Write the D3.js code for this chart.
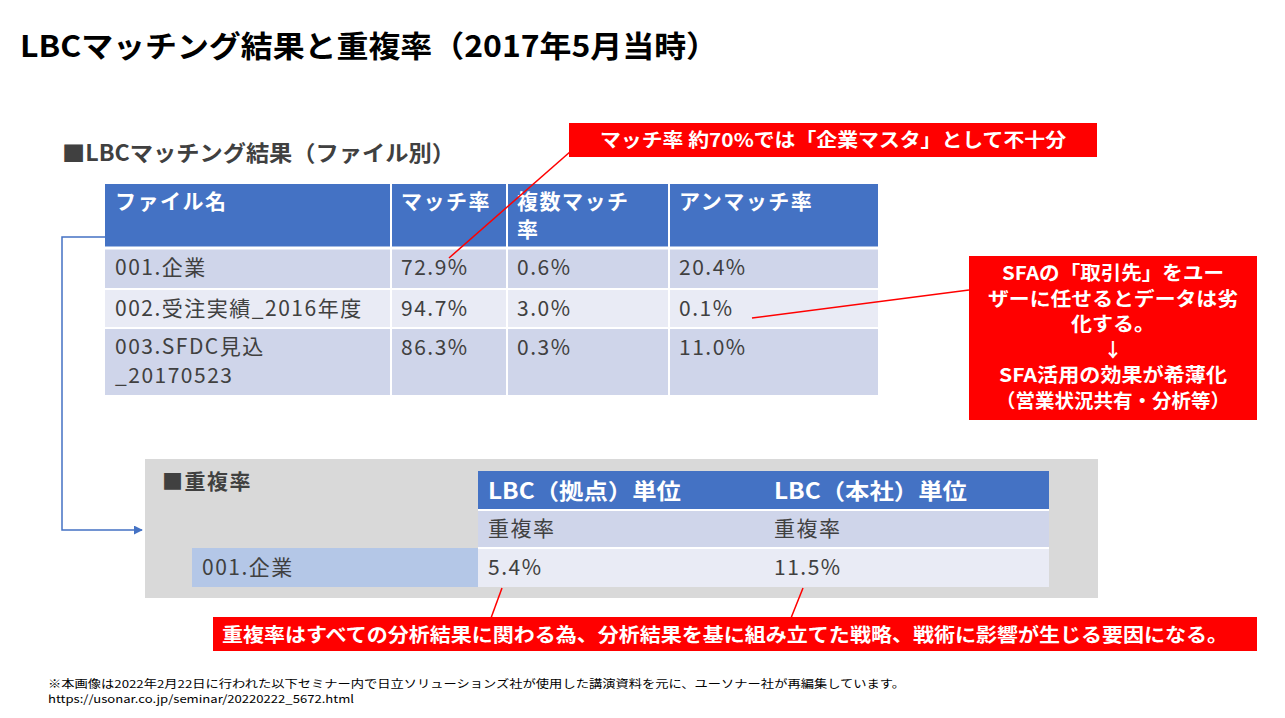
<!DOCTYPE html><html><head><meta charset="utf-8">
<script src="https://cdn.jsdelivr.net/npm/d3@7"></script>
<style>body{margin:0;background:#fff}text{font-family:"Noto Sans CJK JP","Noto Sans",sans-serif}</style></head><body>
<svg id="c" width="1285" height="718"></svg>
<script>
const headers = ["ファイル名","マッチ率","複数マッチ率","アンマッチ率"];
const files = ["001.企業","002.受注実績_2016年度","003.SFDC見込_20170523"];
const matchRate = ["72.9%","94.7%","86.3%"];
const multiRate = ["0.6%","3.0%","0.3%"];
const unmatchRate = ["20.4%","0.1%","11.0%"];
const dupHeaders = ["LBC（拠点）単位","LBC（本社）単位"];
const dupRow = ["001.企業"];
const dupValues = ["5.4%","11.5%"];

const svg = d3.select("#c");
const BLUE="#4472C4", L1="#CFD5EA", L2="#E9EBF5", RED="#FF0000", TXT="#404040";
function txt(x,y,s,o={}){const t=svg.append("text").attr("x",x).attr("y",y).text(s)
  .attr("font-size",o.size||21).attr("fill",o.fill||TXT).attr("font-weight",o.bold?"bold":"normal").attr("text-anchor",o.anchor||"start")
  .attr("letter-spacing",o.ls!=null?o.ls:1.5);
  if(o.len){t.attr("textLength",o.len).attr("lengthAdjust","spacingAndGlyphs").attr("letter-spacing",0);}
  return t;}
function rect(x,y,w,h,f){return svg.append("rect").attr("x",x).attr("y",y).attr("width",w).attr("height",h).attr("fill",f);}

txt(20,57,"LBCマッチング結果と重複率（2017年5月当時）",{size:30,bold:true,fill:"#000",len:698});
txt(62,161,"■LBCマッチング結果（ファイル別）",{size:22,bold:true,len:393});

// table 1
const colX = d3.scaleOrdinal().domain(headers).range([105,391,507,669]);
const colEnd = 878;
const rowY = d3.scaleOrdinal().domain(["h",...files]).range([184,248,289,328]);
const rowH = [64,41,39,67];
const cols = headers.map((h,i)=>({h,x:colX(h),w:(i<3?colX(headers[i+1]):colEnd)-colX(h)}));
rect(105,184,colEnd-105,64,BLUE);
cols.forEach((c,i)=>{
  const lines = i===2?["複数マッチ","率"]:[c.h];
  lines.forEach((l,k)=>txt(c.x+10,209+k*28,l,{fill:"#fff",bold:true}));
});
files.forEach((f,r)=>{
  const y=rowY(f), h=rowH[r+1];
  const vals=[f,matchRate[r],multiRate[r],unmatchRate[r]];
  cols.forEach((c,i)=>{
    rect(c.x,y,c.w,h,r===1?L2:L1);
    if(i===0&&r===2){txt(c.x+10,y+26,"003.SFDC見込");txt(c.x+10,y+55,"_20170523");}
    else txt(c.x+10,y+27,vals[i]);
  });
});
cols.slice(1).forEach(c=>svg.append("line").attr("x1",c.x).attr("x2",c.x).attr("y1",184).attr("y2",395).attr("stroke","#fff").attr("stroke-width",2));
[248,289,328].forEach(y=>svg.append("line").attr("x1",105).attr("x2",colEnd).attr("y1",y).attr("y2",y).attr("stroke","#fff").attr("stroke-width",y===248?3:2));

// connector
svg.append("defs").append("marker").attr("id","ar").attr("viewBox","0 0 10 10").attr("refX",9).attr("refY",5)
 .attr("markerWidth",6).attr("markerHeight",6).attr("orient","auto").append("path").attr("d","M0,0L10,5L0,10z").attr("fill",BLUE);
svg.append("path").attr("d","M105,237H62V530H142").attr("fill","none").attr("stroke",BLUE).attr("stroke-width",1.5).attr("marker-end","url(#ar)");

// dup table
rect(145,459,953,139,"#D9D9D9");
txt(162,489,"■重複率",{bold:true});
const dx = d3.scaleOrdinal().domain(dupHeaders).range([478,764]);
rect(478,471,571,39,BLUE);
rect(478,510,571,38,L1);
rect(478,548,571,39,L2);
rect(192,548,286,39,"#B4C7E7");
svg.append("line").attr("x1",478).attr("x2",1049).attr("y1",510).attr("y2",510).attr("stroke","#fff").attr("stroke-width",2);
svg.append("line").attr("x1",478).attr("x2",1049).attr("y1",548).attr("y2",548).attr("stroke","#fff").attr("stroke-width",2);
dupHeaders.forEach((h,i)=>{
  txt(dx(h)+10,499,h,{fill:"#fff",bold:true,size:22,len:193});
  txt(dx(h)+10,536,"重複率");
  txt(dx(h)+10,575,dupValues[i]);
});
txt(202,575,dupRow[0]);

// red annotations
const redLine=(x1,y1,x2,y2)=>svg.append("line").attr("x1",x1).attr("y1",y1).attr("x2",x2).attr("y2",y2).attr("stroke",RED).attr("stroke-width",1.5);
redLine(595,130,449,258); redLine(969,290,752,318); redLine(502,588,491,618); redLine(803,588,791,618);
rect(569,123,528,34,RED);
txt(600,147,"マッチ率 約70%では「企業マスタ」として不十分",{fill:"#fff",bold:true,size:19,len:466});
rect(969,256,288,164,RED);
[["SFAの「取引先」をユー",222],["ザーに任せるとデータは劣",250],["化する。",84],["↓",null],["SFA活用の効果が希薄化",228],["（営業状況共有・分析等）",234]].forEach(([l,w],i)=>{
  const o={fill:"#fff",bold:true,size:19,anchor:"middle",ls:0}; if(w)o.len=w;
  txt(1113,280+i*25.5,l,o);});
rect(213,617,1044,34,RED);
txt(222,642,"重複率はすべての分析結果に関わる為、分析結果を基に組み立てた戦略、戦術に影響が生じる要因になる。",{fill:"#fff",bold:true,size:19,len:1006});

txt(48,688,"※本画像は2022年2月22日に行われた以下セミナー内で日立ソリューションズ社が使用した講演資料を元に、ユーソナー社が再編集しています。",{size:11,fill:"#000",len:857});
txt(48,703,"https://usonar.co.jp/seminar/20220222_5672.html",{size:11,fill:"#000",len:306});
</script></body></html>
